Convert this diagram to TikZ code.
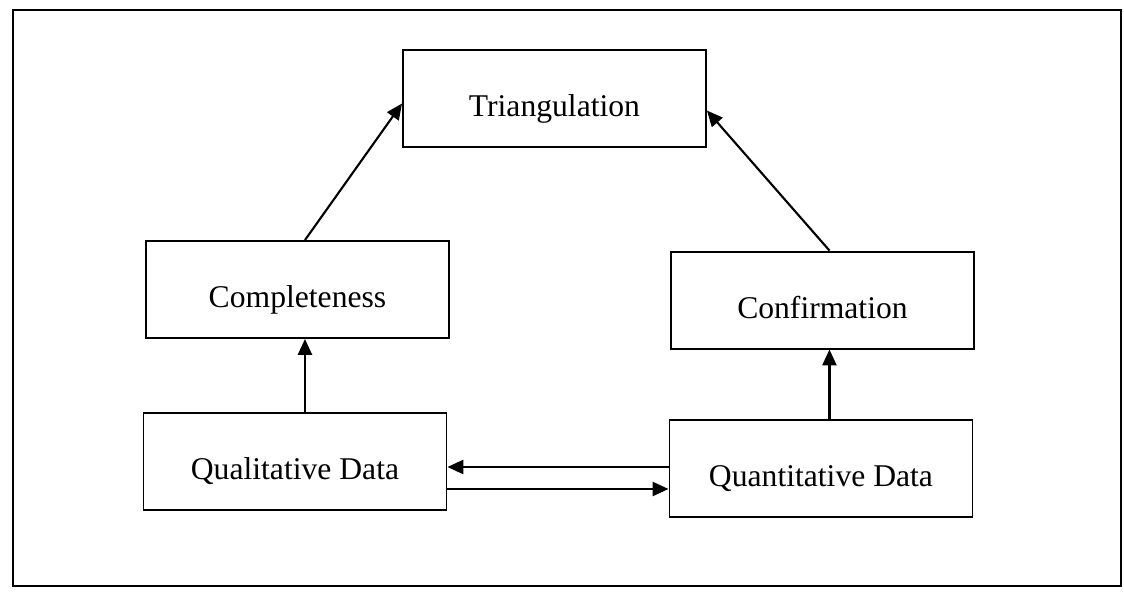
\documentclass[tikz,border=0pt]{standalone}
\usepackage{fontspec}
\setmainfont{Liberation Serif}
\usetikzlibrary{arrows.meta}

\tikzset{
box/.style={draw, rectangle, anchor = south west, line width=1.1pt,
minimum width=6.06cm, minimum height=1.94cm,
text height=21pt, text depth=0pt,
font={\fontsize{18}{18}\selectfont}},
arr/.style={line width=1.2pt, -{Triangle[length=9pt, width=8pt]}}
}

\begin{document}
\begin{tikzpicture}

\useasboundingbox (0,0) rectangle (22.48,11.94);

% outer frame
\draw [line width=1.2pt] (0.26,0.22) rectangle (22.42,11.74);

\node [box] (tri) at (8.04,8.98) {Triangulation};

\node [box] (comp) at (2.9,5.16) {Completeness};

\node [box] (conf) at (13.4,4.95) {Confirmation};

\node [box] (qual) at (2.85,1.72) {Qualitative Data};

\node [box] (quant) at (13.37,1.58) {Quantitative Data};

\coordinate (cq) at ([xshift=0.15cm]comp.south);
\coordinate (cf) at ([xshift=0.14cm]conf.south);

\draw [arr] (cq |- comp.north) -- ([yshift=-0.1cm]tri.west);
\draw [arr] (cf |- conf.north) -- ([yshift=-0.24cm]tri.east);

\draw [arr] (cq |- qual.north) -- (cq);
\draw [arr] (cf |- quant.north) -- (cf);

%\draw [arr] (quant.west) -- (qual.east);
\draw [arr] (quant.west |- 0,2.6) -- (qual.east |- 0,2.6);
\draw [arr] (qual.east |- 0,2.16) -- (quant.west |- 0,2.16);

\end{tikzpicture}
\end{document}
